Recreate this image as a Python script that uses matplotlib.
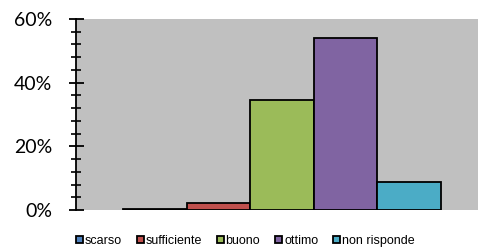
import matplotlib
matplotlib.use("Agg")
import matplotlib.pyplot as plt
from matplotlib.patches import Patch
from matplotlib.ticker import MultipleLocator, PercentFormatter

# Data
categories = ["scarso", "sufficiente", "buono", "ottimo", "non risponde"]
values     = [0.3, 2.1, 34.6, 53.9, 8.9]
colours    = ["#4F81BD", "#C0504D", "#9BBB59", "#8064A2", "#4BACC6"]

# Figure
fig = plt.figure(figsize=(4.78, 2.48), dpi=100)
ax = fig.add_axes([76/478, 38/248, 402/478, 191/248])
ax.set_facecolor("#C0C0C0")

# Bars
positions = list(range(len(categories)))
ax.bar(positions, values, width=1.0, color=colours, edgecolor="black", linewidth=1.3)

# Axes
ax.set_xlim(-1.239, 5.08)
ax.set_ylim(0, 60)
ax.set_xticks([])
ax.yaxis.set_major_locator(MultipleLocator(20))
ax.yaxis.set_minor_locator(MultipleLocator(4))
ax.yaxis.set_major_formatter(PercentFormatter(decimals=0))
ax.tick_params(axis="y", which="major", direction="inout", length=10.8, width=1.3, pad=11.5, labelsize=14)
ax.tick_params(axis="y", which="minor", direction="inout", length=7.2, width=1.2)
for label in ax.get_yticklabels():
    label.set_family(["Lato", "DejaVu Sans"])
for side in ["top", "right", "bottom"]:
    ax.spines[side].set_visible(False)
ax.spines["left"].set_linewidth(1.3)

# Legend
handles = [Patch(facecolor=c, edgecolor="black", linewidth=1.3) for c in colours]
fig.legend(handles, categories, loc="center", bbox_to_anchor=(0.513, 7/248), ncol=5,
           frameon=False, handlelength=0.55, handleheight=0.55, handletextpad=0.15,
           columnspacing=1.2, borderpad=0.1, prop={"family": "Liberation Sans", "size": 9})

fig.savefig("out.png", dpi=100)
